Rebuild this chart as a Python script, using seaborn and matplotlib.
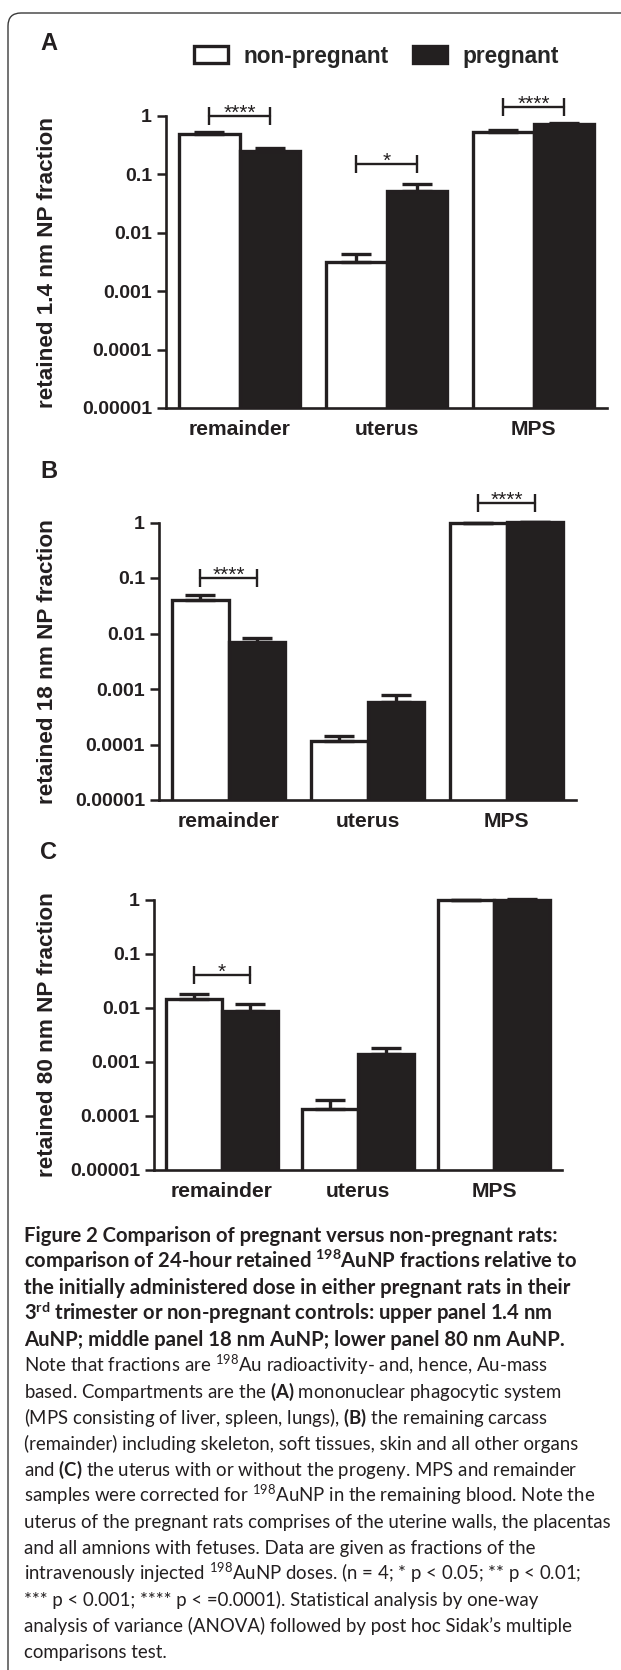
import numpy as np
import pandas as pd
import matplotlib
matplotlib.use("Agg")
import matplotlib.pyplot as plt
import matplotlib.patches as mpatches
from matplotlib.path import Path
from matplotlib.ticker import NullLocator
import seaborn as sns

# ---- values ----
compartments = ["remainder", "uterus", "MPS"]
groups = ["non-pregnant", "pregnant"]

# 1.4 nm AuNP
nonpreg_14 = [0.49, 0.0032, 0.525]
nonpreg_14_sd = [0.04, 0.0012, 0.05]
preg_14 = [0.25, 0.052, 0.73]
preg_14_sd = [0.03, 0.016, 0.03]

# 18 nm AuNP
nonpreg_18 = [0.040, 0.000116, 0.96]
nonpreg_18_sd = [0.009, 0.000028, 0.03]
preg_18 = [0.0071, 0.00059, 1.01]
preg_18_sd = [0.0013, 0.00019, 0.01]

# 80 nm AuNP
nonpreg_80 = [0.0147, 0.000137, 0.99]
nonpreg_80_sd = [0.0033, 0.000063, 0.005]
preg_80 = [0.0089, 0.00139, 1.02]
preg_80_sd = [0.0028, 0.00045, 0.005]

# significance brackets: (compartment, bracket height, stars)
sig_14 = [("remainder", 1.01, "****"), ("uterus", 0.15, "*"), ("MPS", 1.43, "****")]
sig_18 = [("remainder", 0.10, "****"), ("MPS", 2.2, "****")]
sig_80 = [("remainder", 0.041, "*")]

panel_letters = ["A", "B", "C"]
ylabels = ["retained 1.4 nm NP fraction", "retained 18 nm NP fraction",
           "retained 80 nm NP fraction"]
ytick_values = [1e-5, 1e-4, 1e-3, 1e-2, 1e-1, 1]
ytick_labels = ["0.00001", "0.0001", "0.001", "0.01", "0.1", "1"]

caption_bold = [
    "Figure 2 Comparison of pregnant versus non-pregnant rats:",
    r"comparison of 24-hour retained $^{\mathbf{198}}$AuNP fractions relative to",
    "the initially administered dose in either pregnant rats in their",
    r"3$^{\mathbf{rd}}$ trimester or non-pregnant controls: upper panel 1.4 nm",
    "AuNP; middle panel 18 nm AuNP; lower panel 80 nm AuNP.",
]
caption_regular = [
    r"Note that fractions are $^{198}$Au radioactivity- and, hence, Au-mass",
    r"based. Compartments are the $\mathbf{(A)}$ mononuclear phagocytic system",
    r"(MPS consisting of liver, spleen, lungs), $\mathbf{(B)}$ the remaining carcass",
    "(remainder) including skeleton, soft tissues, skin and all other organs",
    r"and $\mathbf{(C)}$ the uterus with or without the progeny. MPS and remainder",
    r"samples were corrected for $^{198}$AuNP in the remaining blood. Note the",
    "uterus of the pregnant rats comprises of the uterine walls, the placentas",
    "and all amnions with fetuses. Data are given as fractions of the",
    r"intravenously injected $^{198}$AuNP doses. (n = 4; * p < 0.05; ** p < 0.01;",
    r"*** p < 0.001; **** p < =0.0001). Statistical analysis by one-way",
    "analysis of variance (ANOVA) followed by post hoc Sidak\u2019s multiple",
    "comparisons test.",
]

panels = [
    (nonpreg_14, nonpreg_14_sd, preg_14, preg_14_sd, sig_14),
    (nonpreg_18, nonpreg_18_sd, preg_18, preg_18_sd, sig_18),
    (nonpreg_80, nonpreg_80_sd, preg_80, preg_80_sd, sig_80),
]

# ---- style ----
sns.set_style("ticks")
plt.rcParams["font.family"] = ["Liberation Sans", "DejaVu Sans"]
plt.rcParams["mathtext.fontset"] = "custom"
plt.rcParams["mathtext.rm"] = "Lato"
plt.rcParams["mathtext.bf"] = "Lato:bold"
INK = "#231f20"

W, H = 621, 1670
fig = plt.figure(figsize=(W / 100, H / 100), dpi=100)

# axes placement in pixels: left, right, y of "1", y of "0.00001"
panel_px = [(166, 607, 116, 408), (159, 576, 522.5, 800), (154, 562, 900, 1170)]
letter_px = [(48.5, 43.5), (48.5, 472), (48.5, 852)]
YTOP = 2.0

for i, (np_vals, np_sd, p_vals, p_sd, sigs) in enumerate(panels):
    left, right, y1, y5 = panel_px[i]
    decade = (y5 - y1) / 5
    top = y1 - np.log10(YTOP) * decade
    ax = fig.add_axes([left / W, 1 - y5 / H, (right - left) / W, (y5 - top) / H])

    df = pd.DataFrame({
        "compartment": compartments * 2,
        "group": [groups[0]] * 3 + [groups[1]] * 3,
        "fraction": np_vals + p_vals,
    })
    sns.barplot(data=df, x="compartment", y="fraction", hue="group",
                order=compartments, hue_order=groups,
                palette={"non-pregnant": "white", "pregnant": INK},
                edgecolor=INK, linewidth=2.4, width=0.82, errorbar=None,
                legend=(i == 0), ax=ax)
    ax.set_yscale("log")

    # upper-only SD bars, placed on the bars seaborn drew
    centers = []
    for cont, vals, sds in zip(ax.containers, [np_vals, p_vals], [np_sd, p_sd]):
        xs = [b.get_x() + b.get_width() / 2 for b in cont]
        centers.append(xs)
        ax.errorbar(xs, vals, yerr=[np.zeros(len(vals)), sds], fmt="none",
                    ecolor=INK, elinewidth=2.4, capsize=10.5, capthick=2.4,
                    zorder=3)

    # significance brackets
    for comp, h, stars in sigs:
        k = compartments.index(comp)
        x0, x1 = centers[0][k], centers[1][k]
        ax.plot([x0, x1], [h, h], color=INK, lw=1.7, marker="|",
                markersize=12.5, markeredgewidth=1.7, clip_on=False, zorder=4)
        ax.annotate(stars, xy=((x0 + x1) / 2, h), xytext=(0, -2),
                    textcoords="offset points", ha="center", va="baseline",
                    fontsize=15, color=INK, annotation_clip=False)

    ax.set_xlim(-0.5, 2.5)
    ax.set_ylim(1e-5, YTOP)
    ax.set_yticks(ytick_values)
    ax.set_yticklabels(ytick_labels)
    ax.yaxis.set_minor_locator(NullLocator())
    sns.despine(ax=ax)
    ax.spines["left"].set_bounds(1e-5, 1)
    for s in ("left", "bottom"):
        ax.spines[s].set_linewidth(1.9)
        ax.spines[s].set_color(INK)
    ax.tick_params(axis="y", length=6.5, width=1.8, pad=3.5, colors=INK,
                   labelsize=14)
    ax.tick_params(axis="x", length=0, pad=8.5, colors=INK, labelsize=15.2)
    for t in ax.get_yticklabels() + ax.get_xticklabels():
        t.set_fontweight("bold")
    ax.set_xlabel("")
    ax.set_ylabel(ylabels[i], fontsize=16.2, fontweight="bold", color=INK)
    ax.yaxis.set_label_coords(47.5 / W, 1 - (y1 + y5) / 2 / H,
                              transform=fig.transFigure)
    ax.yaxis.label.set_va("center")

    lx, ly = letter_px[i]
    fig.text(lx / W, 1 - ly / H, panel_letters[i], fontsize=17,
             fontweight="bold", color=INK, ha="center", va="center")

    if i == 0:
        sns.move_legend(ax, "center left", bbox_to_anchor=(194 / W, 1 - 56 / H),
                        bbox_transform=fig.transFigure, ncol=2, title=None,
                        frameon=False, prop={"weight": "bold", "size": 16.3},
                        handlelength=1.5, handleheight=0.8, handletextpad=0.7,
                        columnspacing=1.05, borderpad=0, borderaxespad=0)

# caption
caption = [(s, "bold", 14.6) for s in caption_bold] + \
          [(s, "normal", 13.4) for s in caption_regular]
for j, (line, weight, size) in enumerate(caption):
    fig.text(24.5 / W, 1 - (1242 + 26 * j) / H, line, family="Lato",
             fontsize=size, fontweight=weight, color=INK, ha="left",
             va="baseline")

# page frame: left edge and top edge with a rounded corner (in inches)
r = 0.13
frame_path = Path([(0.08, -0.5), (0.08, 16.57 - r), (0.08, 16.57),
                   (0.08 + r, 16.57), (7.0, 16.57)],
                  [Path.MOVETO, Path.LINETO, Path.CURVE3, Path.CURVE3, Path.LINETO])
fig.patches.append(mpatches.PathPatch(frame_path, transform=fig.dpi_scale_trans,
                                      fill=False, edgecolor="#3a3a3a",
                                      linewidth=1.0))

fig.savefig("out.png", dpi=100)
